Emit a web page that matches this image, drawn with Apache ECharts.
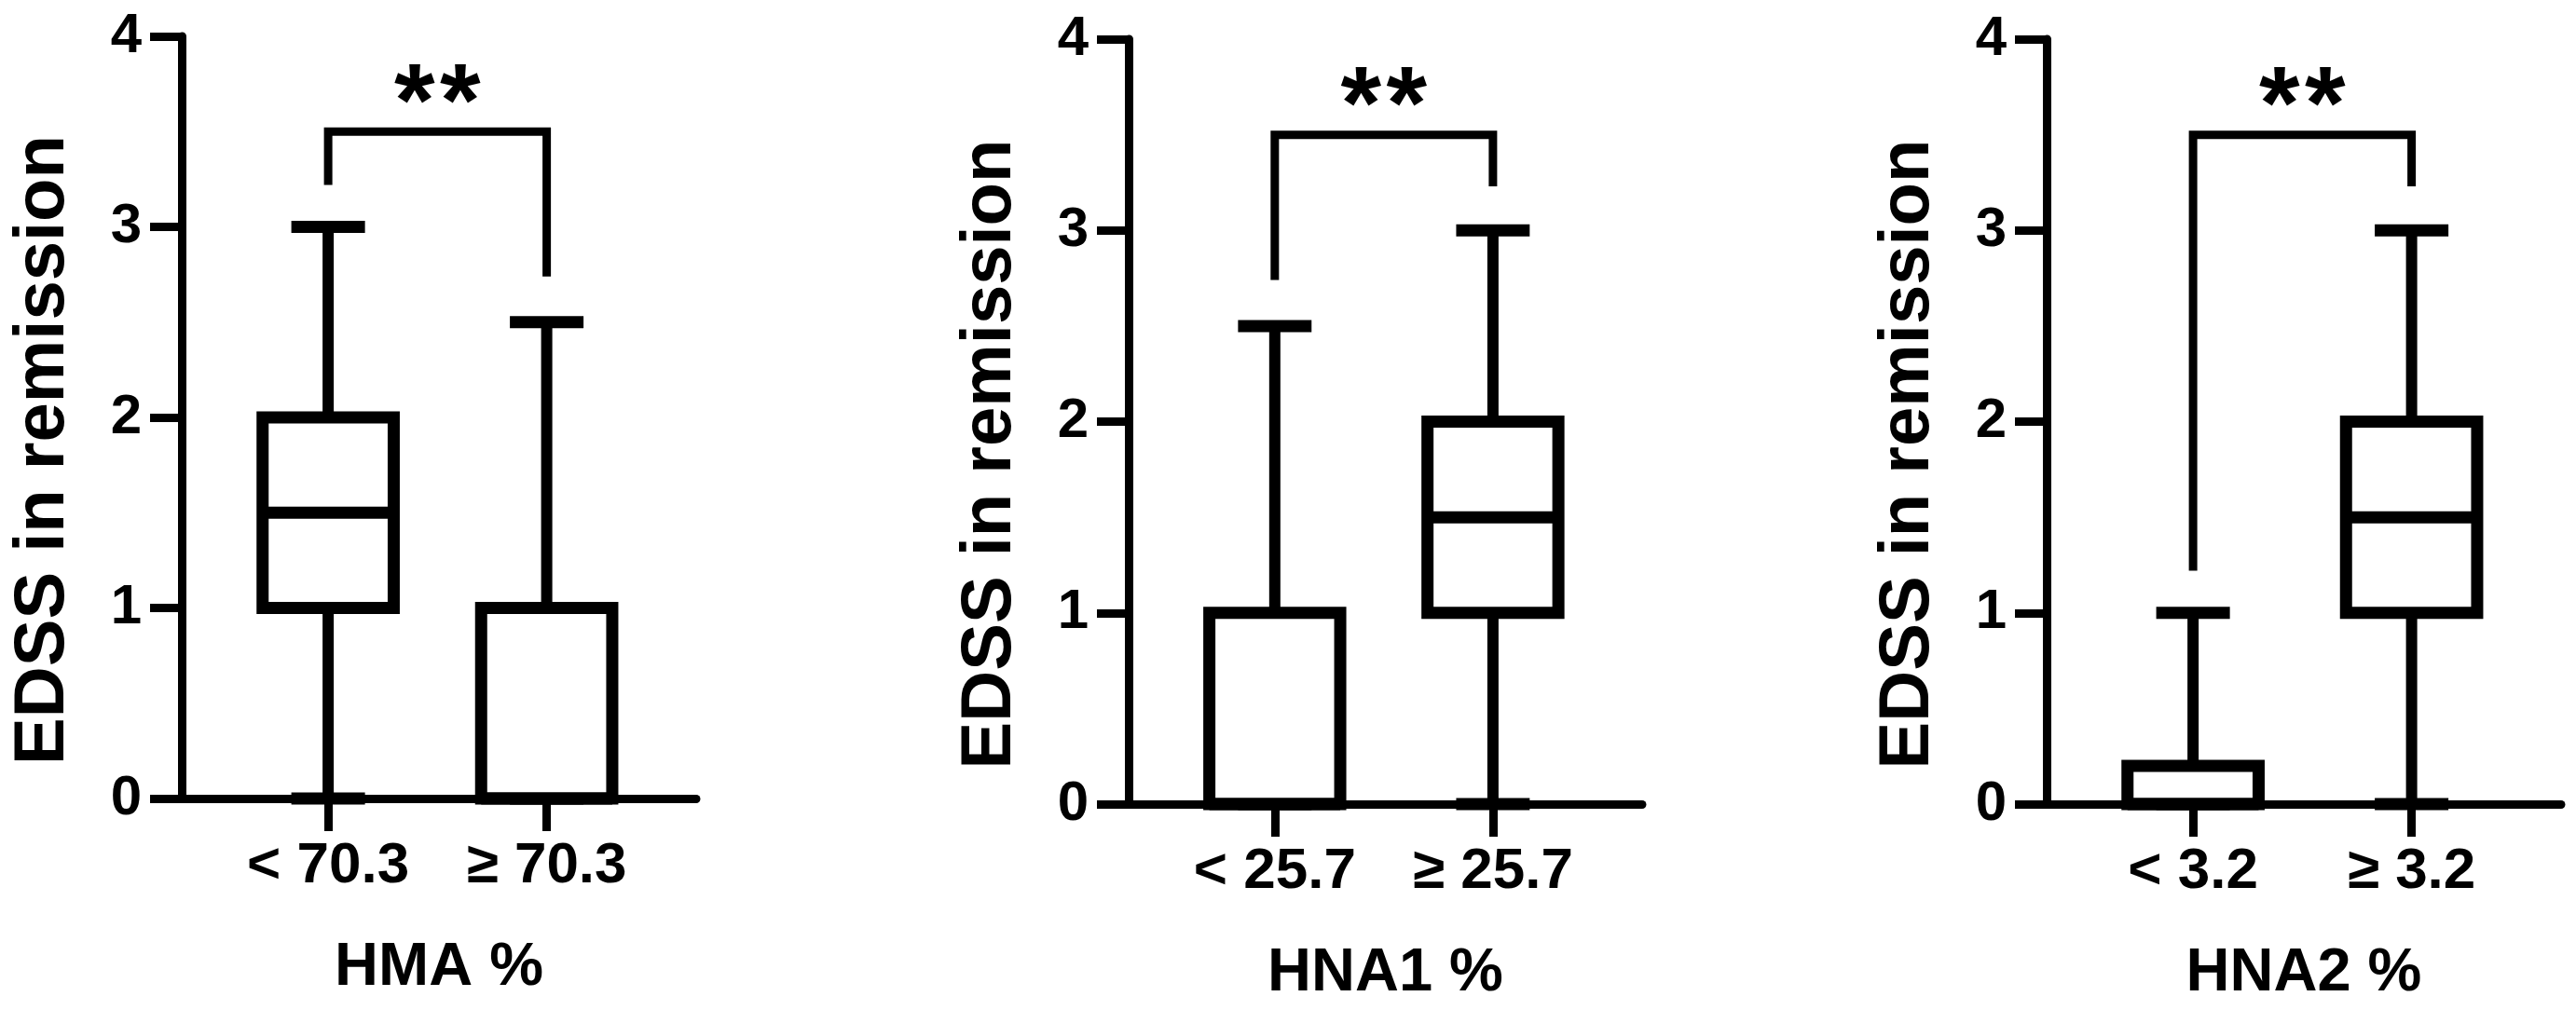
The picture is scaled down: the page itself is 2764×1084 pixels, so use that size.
<!DOCTYPE html>
<html>
<head>
<meta charset="utf-8">
<script src="https://cdn.jsdelivr.net/npm/echarts@6/dist/echarts.min.js"></script>
<style>
  html, body { margin: 0; background: #fff; }
  #chart { width: 2764px; height: 1084px; }
</style>
</head>
<body>
<div id="chart"></div>
<script>
// data
const panelNames = ["HMA %", "HNA1 %", "HNA2 %"];
const categories = [["< 70.3", "≥ 70.3"], ["< 25.7", "≥ 25.7"], ["< 3.2", "≥ 3.2"]];
// [min, Q1, median, Q3, max] for each group
const hmaBoxes = [[0, 1, 1.5, 2, 3], [0, 0, 0, 1, 2.5]];
const hna1Boxes = [[0, 0, 0, 1, 2.5], [0, 1, 1.5, 2, 3]];
const hna2Boxes = [[0, 0, 0, 0.2, 1], [0, 1, 1.5, 2, 3]];
const yTicks = [0, 1, 2, 3, 4];
const bracketTop = 3.5;
const bracketLegs = [[3.22, 2.74], [2.74, 3.23], [1.22, 3.23]];
const sigLabel = "**";

const allBoxes = [hmaBoxes, hna1Boxes, hna2Boxes];
const FONT = "Liberation Sans";

const grids = [
  { left: 195, top: 39, width: 552, height: 818 },
  { left: 1211, top: 42, width: 551, height: 821 },
  { left: 2196, top: 42, width: 552, height: 821 },
];

function renderBox(params, api) {
  const x = api.value(0);
  const xc = api.coord([x, 0])[0];
  const yMin = api.coord([x, api.value(1)])[1];
  const yQ1 = api.coord([x, api.value(2)])[1];
  const yMed = api.coord([x, api.value(3)])[1];
  const yQ3 = api.coord([x, api.value(4)])[1];
  const yMax = api.coord([x, api.value(5)])[1];
  const half = api.size([0.6, 0])[0] / 2;
  const capHalf = api.size([0.337, 0])[0] / 2;
  const st = (w) => ({ stroke: "#000", lineWidth: w, fill: null });
  return {
    type: "group",
    children: [
      { type: "line", shape: { x1: xc, y1: yQ3, x2: xc, y2: yMax }, style: st(12) },
      { type: "line", shape: { x1: xc, y1: yQ1, x2: xc, y2: yMin }, style: st(12) },
      { type: "line", shape: { x1: xc - capHalf, y1: yMax, x2: xc + capHalf, y2: yMax }, style: st(13) },
      { type: "line", shape: { x1: xc - capHalf, y1: yMin, x2: xc + capHalf, y2: yMin }, style: st(13) },
      {
        type: "rect",
        shape: { x: xc - half, y: yQ3, width: half * 2, height: yQ1 - yQ3 },
        style: { fill: "#fff", stroke: "#000", lineWidth: 13 },
      },
      { type: "line", shape: { x1: xc - half, y1: yMed, x2: xc + half, y2: yMed }, style: st(13) },
    ],
  };
}

function renderBracket(params, api) {
  const x0 = api.coord([api.value(0), 0])[0];
  const x1 = api.coord([api.value(1), 0])[0];
  const yTop = api.coord([0, api.value(2)])[1];
  const yL = api.coord([0, api.value(3)])[1];
  const yR = api.coord([0, api.value(4)])[1];
  const star = api.coord([(api.value(0) + api.value(1)) / 2, 3.63]);
  // the stars in the figure sit a bit apart, so draw them one by one
  const chars = sigLabel.split("");
  const step = 49;
  const stars = chars.map((c, k) => ({
    type: "text",
    x: star[0] + (k - (chars.length - 1) / 2) * step,
    y: star[1],
    style: {
      text: c,
      fill: "#000",
      font: "bold 112px " + FONT,
      align: "center",
      verticalAlign: "middle",
    },
  }));
  return {
    type: "group",
    children: [
      {
        type: "polyline",
        shape: { points: [[x0, yL], [x0, yTop], [x1, yTop], [x1, yR]] },
        style: { stroke: "#000", lineWidth: 9, fill: null, lineJoin: "miter" },
      },
    ].concat(stars),
  };
}

const xAxes = [];
const yAxes = [];
const series = [];
grids.forEach((g, i) => {
  xAxes.push({
    type: "value",
    gridIndex: i,
    min: -0.67,
    max: 1.684,
    name: panelNames[i],
    nameLocation: "middle",
    nameGap: 150,
    nameTextStyle: { fontFamily: FONT, fontWeight: "bold", fontSize: 65, color: "#000" },
    axisLine: { onZero: false, lineStyle: { color: "#000", width: 9 } },
    axisTick: { customValues: [0, 1], length: 35, lineStyle: { color: "#000", width: 9 } },
    axisLabel: {
      customValues: [0, 1],
      formatter: (v) => categories[i][Math.round(v)],
      fontFamily: FONT,
      fontWeight: "bold",
      fontSize: 62,
      color: "#000",
      margin: 42,
    },
    splitLine: { show: false },
  });
  yAxes.push({
    type: "value",
    gridIndex: i,
    min: yTicks[0],
    max: yTicks[yTicks.length - 1],
    interval: 1,
    name: "EDSS in remission",
    nameLocation: "middle",
    nameGap: 110,
    nameTextStyle: {
      fontFamily: FONT,
      fontWeight: "bold",
      fontSize: 76,
      color: "#000",
      padding: [0, 70, 0, 0],
    },
    axisLine: { show: true, onZero: false, lineStyle: { color: "#000", width: 9 } },
    axisTick: { show: true, length: 34, lineStyle: { color: "#000", width: 9 } },
    axisLabel: { fontFamily: FONT, fontWeight: "bold", fontSize: 60, color: "#000", margin: 43 },
    splitLine: { show: false },
  });
  series.push({
    type: "custom",
    xAxisIndex: i,
    yAxisIndex: i,
    renderItem: renderBox,
    clip: false,
    silent: true,
    encode: { x: 0, y: [1, 2, 3, 4, 5] },
    data: allBoxes[i].map((b, j) => [j].concat(b)),
  });
  series.push({
    type: "custom",
    xAxisIndex: i,
    yAxisIndex: i,
    renderItem: renderBracket,
    clip: false,
    silent: true,
    encode: { x: [0, 1], y: [2, 3, 4] },
    data: [[0, 1, bracketTop, bracketLegs[i][0], bracketLegs[i][1]]],
  });
});

const myChart = echarts.init(document.getElementById("chart"), null, { renderer: "canvas" });
myChart.setOption({
  backgroundColor: "#fff",
  animation: false,
  grid: grids,
  xAxis: xAxes,
  yAxis: yAxes,
  series: series,
});
</script>
</body>
</html>
